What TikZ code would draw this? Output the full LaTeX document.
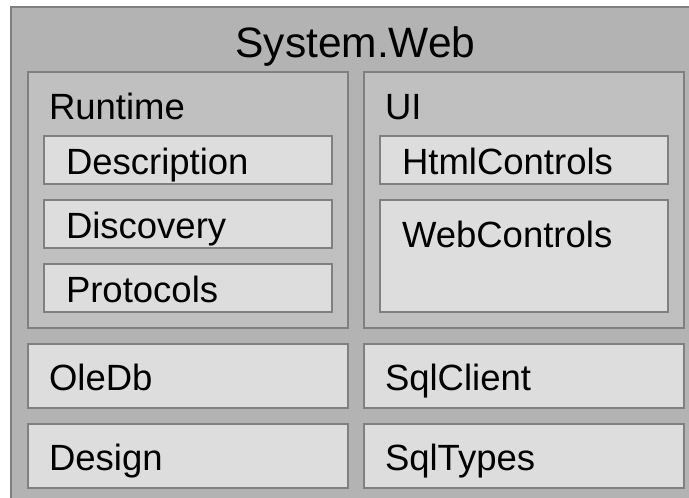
\documentclass[tikz,border=0pt]{standalone}
\usepackage{fontspec}
\setmainfont{Liberation Sans}
\definecolor{outerfill}{HTML}{B3B3B3}
\definecolor{midfill}{HTML}{C0C0C0}
\definecolor{innerfill}{HTML}{DDDDDD}
\definecolor{edge}{HTML}{808080}
\tikzset{
  box/.style={draw=edge, line width=2pt, inner sep=0pt, outer sep=0pt, anchor=north west, rectangle},
  outerbox/.style={box, fill=outerfill},
  midbox/.style={box, fill=midfill},
  innerbox/.style={box, fill=innerfill},
  lbl/.style={inner sep=0pt, outer sep=0pt, anchor=base west, font=\fontsize{36.5}{40}\selectfont},
  ttl/.style={inner sep=0pt, outer sep=0pt, anchor=base, font=\fontsize{42.5}{46}\selectfont}
}
\begin{document}
\begin{tikzpicture}[x=1pt,y=-1pt]
\fill[white] (0,0) rectangle (689,498);
\clip (0,0) rectangle (689,498);
\node[outerbox, minimum width=701pt, minimum height=520pt] (web) at (11,7) {};
\node[ttl] (webt) at (355.5,57) {System.Web};
% Runtime
\node[midbox, minimum width=320pt, minimum height=256pt] (rt) at (28,72) {};
\node[lbl] (rtt) at ([xshift=21pt,yshift=-47pt]rt.north west) {Runtime};
\node[innerbox, minimum width=288pt, minimum height=48pt] (desc) at (44,136) {};
\node[lbl] (desct) at ([xshift=22pt,yshift=-14pt]desc.west) {Description};
\node[innerbox, minimum width=288pt, minimum height=48pt] (disc) at (44,200) {};
\node[lbl] (disct) at ([xshift=22pt,yshift=-14pt]disc.west) {Discovery};
\node[innerbox, minimum width=288pt, minimum height=48pt] (prot) at (44,264) {};
\node[lbl] (prott) at ([xshift=22pt,yshift=-14pt]prot.west) {Protocols};
% UI
\node[midbox, minimum width=320pt, minimum height=256pt] (ui) at (364,72) {};
\node[lbl] (uit) at ([xshift=21pt,yshift=-47pt]ui.north west) {UI};
\node[innerbox, minimum width=288pt, minimum height=48pt] (html) at (380,136) {};
\node[lbl] (htmlt) at ([xshift=22pt,yshift=-14pt]html.west) {HtmlControls};
\node[innerbox, minimum width=288pt, minimum height=112pt] (wc) at (380,200) {};
\node[lbl] (wct) at ([xshift=22pt,yshift=-47pt]wc.north west) {WebControls};
% bottom rows
\node[innerbox, minimum width=320pt, minimum height=64pt] (ole) at (28,344) {};
\node[lbl] (olet) at ([xshift=21pt,yshift=-14pt]ole.west) {OleDb};
\node[innerbox, minimum width=320pt, minimum height=64pt] (des) at (28,424) {};
\node[lbl] (dest) at ([xshift=21pt,yshift=-14pt]des.west) {Design};
\node[innerbox, minimum width=320pt, minimum height=64pt] (sqlc) at (364,344) {};
\node[lbl] (sqlct) at ([xshift=21pt,yshift=-14pt]sqlc.west) {SqlClient};
\node[innerbox, minimum width=320pt, minimum height=64pt] (sqlt) at (364,424) {};
\node[lbl] (sqltt) at ([xshift=21pt,yshift=-14pt]sqlt.west) {SqlTypes};
\end{tikzpicture}
\end{document}
